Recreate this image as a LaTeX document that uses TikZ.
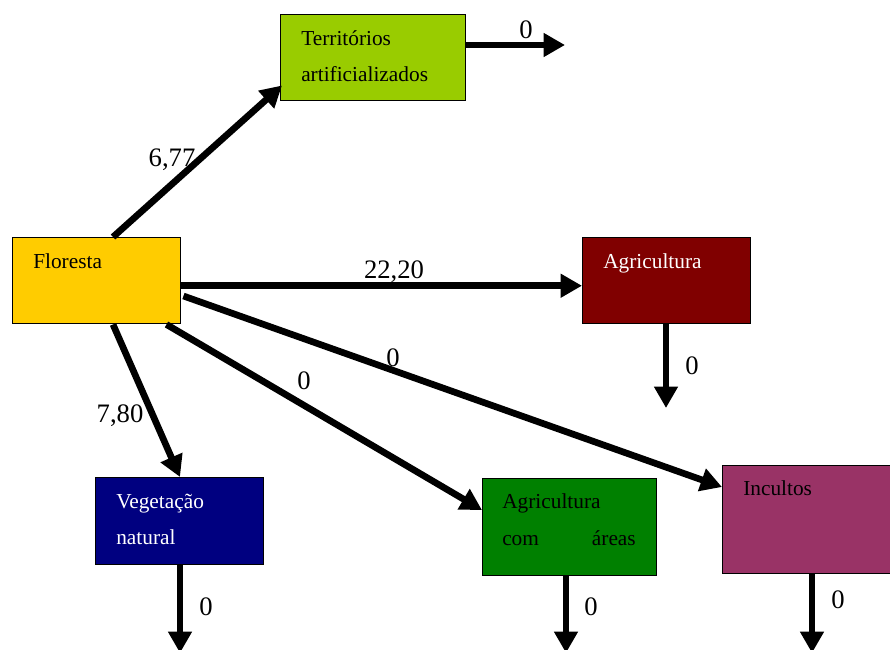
\documentclass[tikz,border=0pt]{standalone}
\usepackage{fontspec}
\setmainfont{Liberation Serif}
\usetikzlibrary{arrows.meta,calc}
\definecolor{cterr}{HTML}{99CC00}
\definecolor{cflor}{HTML}{FFCC00}
\definecolor{cagri}{HTML}{800000}
\definecolor{cveg}{HTML}{000080}
\definecolor{cagc}{HTML}{008000}
\definecolor{cinc}{HTML}{993366}
\begin{document}
\begin{tikzpicture}[x=0.75pt,y=-0.75pt,
  box/.style={draw=black,line width=1.1pt,inner sep=0pt,anchor=north west},
  boxtext/.style={anchor=base west,inner sep=0pt,font=\fontsize{16}{19}\selectfont},
  val/.style={inner sep=0pt,font=\fontsize{20}{24}\selectfont},
  flow/.style={line width=5pt,-{Triangle[length=16pt,width=17pt]}}]
\useasboundingbox (0,0) rectangle (890,650);
% boxes
\node[box,fill=cterr,minimum width=138.75pt,minimum height=64.5pt] (terr) at (280,14) {};
\node[box,fill=cflor,minimum width=126pt,minimum height=64.5pt] (flor) at (12,237) {};
\node[box,fill=cagri,minimum width=126pt,minimum height=64.5pt] (agri) at (582,237) {};
\node[box,fill=cveg,minimum width=126pt,minimum height=65.25pt] (veg) at (95,477) {};
\node[box,fill=cagc,minimum width=130.5pt,minimum height=72.75pt] (agc) at (482,478) {};
\node[box,fill=cinc,minimum width=135pt,minimum height=81pt] (inc) at (722,465) {};
% box texts
\node[boxtext] (t1) at ($(terr.north west)+(21,31)$) {Territórios};
\node[boxtext] (t2) at ($(terr.north west)+(21,67)$) {artificializados};
\node[boxtext] (t3) at ($(flor.north west)+(21,31)$) {Floresta};
\node[boxtext,text=white] (t4) at ($(agri.north west)+(21,31)$) {Agricultura};
\node[boxtext,text=white] (t5) at ($(veg.north west)+(21,31)$) {Vegetação};
\node[boxtext,text=white] (t6) at ($(veg.north west)+(21,67)$) {natural};
\node[boxtext] (t7) at ($(agc.north west)+(20,30)$) {Agricultura};
\node[boxtext] (t8) at ($(agc.north west)+(20,67)$) {com};
\node[boxtext,anchor=base east] (t9) at ($(agc.north west)+(154,67)$) {áreas};
\node[boxtext] (t10) at ($(inc.north west)+(21,30)$) {Incultos};
% free ends
\coordinate (eterr) at (565,45);
\coordinate (eagri) at (666,408);
\coordinate (eveg) at (180,653);
\coordinate (eagc) at (566,653);
\coordinate (einc) at (812,653);
% connectors
\draw[flow] ($(flor.north west)+(101,0)$) -- ($(terr.south west)+(2,-16)$);
\draw[flow] ($(terr.north east)+(0,31)$) -- (eterr);
\draw[flow] ($(flor.east)+(0,5)$) -- ($(agri.west)+(0,5)$);
\draw[flow] ($(flor.north east)+(2,59)$) -- ($(inc.north west)+(0,22)$);
\draw[flow] ($(flor.south east)+(-15,0)$) -- ($(agc.north west)+(0,32)$);
\draw[flow] ($(flor.south west)+(101,0)$) -- ($(veg.north west)+(85,0)$);
\draw[flow] ($(agri.south west)+(84,0)$) -- (eagri);
\draw[flow] ($(veg.south west)+(85,0)$) -- (eveg);
\draw[flow] ($(agc.south west)+(84,0)$) -- (eagc);
\draw[flow] ($(inc.south west)+(90,0)$) -- (einc);
% values
\node[val] (v1) at (172,160) {6,77};
\node[val] (v2) at (526,30) {0};
\node[val] (v3) at (394,272) {22,20};
\node[val] (v4) at (393,358) {0};
\node[val] (v5) at (304,381) {0};
\node[val] (v6) at (120,416) {7,80};
\node[val] (v7) at (692,366) {0};
\node[val] (v8) at (206,607) {0};
\node[val] (v9) at (591,607) {0};
\node[val] (v10) at (838,600) {0};
\end{tikzpicture}
\end{document}
